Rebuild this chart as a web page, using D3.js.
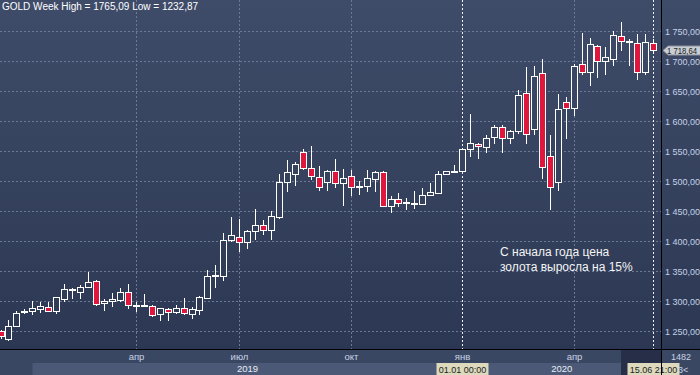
<!DOCTYPE html>
<html>
<head>
<meta charset="utf-8">
<script src="https://cdn.jsdelivr.net/npm/d3@7"></script>
<style>
  html, body { margin: 0; padding: 0; background: #2c3853; }
  svg { display: block; font-family: "Liberation Sans", Arial, sans-serif; }
</style>
</head>
<body>
<div id="chart"></div>
<script>
// weekly bars, Sunday-based, last bar = week of 15.06.2020
var weeks = d3.timeWeek.range(new Date(2018, 10, 18), new Date(2020, 5, 15)).map(d3.timeFormat("%Y-%m-%d"));

var open = [1250, 1237, 1259, 1283, 1283, 1286, 1290, 1283, 1304, 1319,
            1315, 1323, 1333, 1296, 1300, 1302, 1315, 1292, 1291, 1291,
            1278, 1287, 1281, 1288, 1279, 1285, 1305, 1341, 1341, 1401,
            1407, 1399, 1416, 1426, 1419, 1440, 1498, 1512, 1548, 1521,
            1507, 1498, 1516, 1496, 1508, 1490, 1491, 1504, 1515, 1459,
            1470, 1464, 1462, 1461, 1476, 1480, 1511, 1516, 1517, 1554,
            1562, 1557, 1574, 1590, 1571, 1583, 1646, 1587, 1680, 1541,
            1499, 1631, 1621, 1695, 1681, 1725, 1700, 1703, 1741, 1732,
            1730, 1681, 1730];
var high = [1252, 1268, 1284, 1287, 1300, 1298, 1298, 1307, 1329, 1321,
            1326, 1348, 1335, 1304, 1314, 1322, 1329, 1299, 1312, 1293,
            1289, 1289, 1293, 1305, 1290, 1308, 1351, 1360, 1413, 1440,
            1436, 1418, 1453, 1435, 1450, 1511, 1535, 1532, 1553, 1559,
            1525, 1518, 1537, 1520, 1518, 1500, 1518, 1516, 1516, 1475,
            1480, 1471, 1484, 1488, 1497, 1517, 1517, 1526, 1555, 1612,
            1563, 1577, 1593, 1593, 1585, 1651, 1690, 1692, 1703, 1577,
            1645, 1640, 1695, 1746, 1738, 1727, 1723, 1750, 1765.09, 1736,
            1745, 1745, 1736];
var low = [1236, 1232.87, 1257, 1279, 1277, 1280, 1281, 1278, 1299, 1303,
           1304, 1321, 1291, 1283, 1290, 1299, 1287, 1282, 1290, 1273,
           1267, 1267, 1278, 1276, 1270, 1276, 1304, 1321, 1334, 1399,
           1382, 1386, 1401, 1410, 1401, 1437, 1481, 1492, 1518, 1502,
           1484, 1483, 1488, 1459, 1475, 1477, 1481, 1481, 1456, 1446,
           1456, 1452, 1454, 1460, 1475, 1478, 1510, 1513, 1516, 1540,
           1536, 1546, 1562, 1547, 1562, 1579, 1562, 1576, 1504, 1451,
           1484, 1570, 1609, 1676, 1659, 1671, 1676, 1691, 1716, 1692,
           1669, 1676, 1711];
var close = [1241, 1258, 1280, 1284, 1288, 1291, 1283, 1306, 1320, 1320,
             1323, 1332, 1295, 1300, 1303, 1315, 1293, 1293, 1293, 1276,
             1288, 1281, 1288, 1280, 1287, 1306, 1342, 1343, 1402, 1410,
             1399, 1417, 1426, 1419, 1441, 1498, 1515, 1528, 1521, 1508,
             1490, 1517, 1497, 1505, 1490, 1491, 1505, 1515, 1459, 1470,
             1463, 1465, 1463, 1477, 1482, 1512, 1516, 1517, 1553, 1563,
             1558, 1571, 1590, 1571, 1584, 1643, 1578, 1675, 1524, 1490,
             1620, 1621, 1691, 1682, 1728, 1700, 1706, 1743, 1733, 1734,
             1681, 1731, 1718.64];

var priceTicks = [1250, 1300, 1350, 1400, 1450, 1500, 1550, 1600, 1650, 1700, 1750];
var monthWeeks = ["2019-03-17", "2019-06-16", "2019-09-22", "2019-12-29", "2020-04-05"];
var monthLabels = ["апр", "июл", "окт", "янв", "апр"];
var yearStarts = ["2018-12-16", "2019-12-29"];
var yearLabels = ["2019", "2020"];
var cursorWeek = "2019-12-29", cursorLabel = "01.01 00:00";
var lastLabel = "15.06 21:00";
var noteLines = ["С начала года цена", "золота выросла на 15%"];

var W = 700, H = 375, plotR = 661, plotB = 349;
var bars = weeks.map(function(w, i) { return {w: w, o: open[i], h: high[i], l: low[i], c: close[i]}; });

var x = d3.scalePoint().domain(weeks).range([0.5, 653.2]);
var y = d3.scaleLinear().domain([1250, 1750]).range([331, 31]);
var ru = d3.formatLocale({decimal: ",", thousands: " ", grouping: [3], currency: ["", ""]});
var fmtAxis = ru.format(",.2f"), fmtPlain = ru.format(".2f");
var px = function(w) { return Math.round(x(w)) + 0.5; };

var svg = d3.select("#chart").append("svg").attr("width", W).attr("height", H);
var defs = svg.append("defs");
var grad = defs.append("linearGradient").attr("id", "bg")
  .attr("gradientUnits", "userSpaceOnUse").attr("x1", 0).attr("y1", 0).attr("x2", 0).attr("y2", plotB);
grad.append("stop").attr("offset", 0).attr("stop-color", "#3f4c69");
grad.append("stop").attr("offset", 1).attr("stop-color", "#2c3853");
defs.append("clipPath").attr("id", "plotclip").append("rect").attr("width", plotR).attr("height", plotB);

svg.append("rect").attr("width", W).attr("height", plotB).attr("fill", "url(#bg)");

// bottom time bar
svg.append("rect").attr("y", plotB).attr("width", W).attr("height", H - plotB).attr("fill", "#3a4763");
svg.append("rect").attr("x", px(yearStarts[0])).attr("y", 363).attr("width", plotR - px(yearStarts[0])).attr("height", 12).attr("fill", "#4b5976");
svg.append("rect").attr("x", 621).attr("y", plotB).attr("width", plotR - 621).attr("height", H - plotB).attr("fill", "#262f47");

var plot = svg.append("g").attr("clip-path", "url(#plotclip)");

// grid
plot.selectAll(".hg").data(priceTicks).enter().append("line")
  .attr("x1", 0).attr("x2", plotR).attr("y1", function(d) { return Math.round(y(d)) + 0.5; })
  .attr("y2", function(d) { return Math.round(y(d)) + 0.5; })
  .attr("stroke", "#6b7995").attr("stroke-dasharray", "2,2");
plot.selectAll(".vg").data(monthWeeks).enter().append("line")
  .attr("x1", px).attr("x2", px).attr("y1", 0).attr("y2", plotB)
  .attr("stroke", "#6b7995").attr("stroke-dasharray", "2,2");
plot.selectAll(".cur").data([cursorWeek, weeks[weeks.length - 1]]).enter().append("line")
  .attr("x1", px).attr("x2", px).attr("y1", 0).attr("y2", plotB)
  .attr("stroke", "#f2f2f2").attr("stroke-dasharray", "2,2");

// candles
var cg = plot.selectAll(".bar").data(bars).enter().append("g");
cg.append("line")
  .attr("x1", function(d) { return px(d.w); }).attr("x2", function(d) { return px(d.w); })
  .attr("y1", function(d) { return Math.round(y(d.h)); }).attr("y2", function(d) { return Math.round(y(d.l)); })
  .attr("stroke", "#ffffff");
cg.append("rect")
  .attr("x", function(d) { return px(d.w) - 3; })
  .attr("y", function(d) { return Math.round(y(Math.max(d.o, d.c))) + 0.5; })
  .attr("width", 6)
  .attr("height", function(d) { return Math.max(1, Math.round(y(Math.min(d.o, d.c))) - Math.round(y(Math.max(d.o, d.c)))); })
  .attr("fill", function(d) { return d.c < d.o ? "#e0173c" : "url(#bg)"; })
  .attr("stroke", "#ffffff");

// note
svg.selectAll(".note").data(noteLines).enter().append("text")
  .attr("x", 500).attr("y", function(d, i) { return 256 + i * 15; })
  .attr("fill", "#f4f4f4").attr("font-size", 12).text(function(d) { return d; });

// title
svg.append("text").attr("x", 2).attr("y", 9.5).attr("fill", "#ffffff").attr("font-size", 10)
  .text("GOLD Week High = " + fmtPlain(d3.max(high)) + " Low = " + fmtPlain(d3.min(low)));

// price axis
svg.selectAll(".pt").data(priceTicks).enter().append("text")
  .attr("x", 665).attr("y", function(d) { return y(d) + 3.5; })
  .attr("fill", "#c3d2e8").attr("font-size", 9).text(fmtAxis);

var last = close[close.length - 1], ly = Math.round(y(last)) + 0.5;
svg.append("path")
  .attr("d", "M663," + ly + "L668," + (ly - 4.5) + "H701V" + (ly + 4.5) + "H668Z")
  .attr("fill", "#c9cdd4").attr("stroke", "#8b919c");
svg.append("text").attr("x", 667).attr("y", ly + 3.3).attr("fill", "#1b1d22").attr("font-size", 8.5)
  .attr("textLength", 30).attr("lengthAdjust", "spacingAndGlyphs").text(fmtAxis(last));

// time axis labels
svg.selectAll(".mt").data(monthWeeks).enter().append("text")
  .attr("x", px).attr("y", 360).attr("text-anchor", "middle")
  .attr("fill", "#c9d3e6").attr("font-size", 9.5).text(function(d, i) { return monthLabels[i]; });
svg.selectAll(".yt").data(yearStarts).enter().append("text")
  .attr("x", function(d, i) { var e = i + 1 < yearStarts.length ? px(yearStarts[i + 1]) : plotR; return (px(d) + e) / 2; })
  .attr("y", 372).attr("text-anchor", "middle")
  .attr("fill", "#e8edf6").attr("font-size", 9.5).text(function(d, i) { return yearLabels[i]; });

svg.append("text").attr("x", 681).attr("y", 360).attr("text-anchor", "middle").attr("fill", "#c9d3e6").attr("font-size", 9).text("1482");

function tag(cx, label) {
  svg.append("rect").attr("x", cx - 26).attr("y", 363).attr("width", 52).attr("height", 12).attr("fill", "#dcd9bc");
  svg.append("text").attr("x", cx).attr("y", 372.5).attr("text-anchor", "middle").attr("fill", "#1d1d1d").attr("font-size", 9).text(label);
}
tag(px(cursorWeek), cursorLabel);
tag(px(weeks[weeks.length - 1]), lastLabel);
svg.append("text").attr("x", 678).attr("y", 372.5).attr("fill", "#c9d3e6").attr("font-size", 9).text("3<");

// frame lines
svg.append("line").attr("x1", 0).attr("x2", W).attr("y1", plotB + 0.5).attr("y2", plotB + 0.5).attr("stroke", "#000");
svg.append("line").attr("x1", plotR + 0.5).attr("x2", plotR + 0.5).attr("y1", 0).attr("y2", H).attr("stroke", "#000");
</script>
</body>
</html>
